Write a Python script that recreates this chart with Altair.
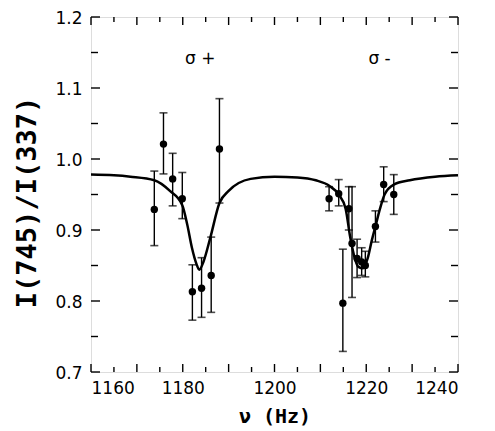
import altair as alt
import pandas as pd

# measured points
nu = [1173.8, 1175.8, 1177.8, 1179.9, 1182.1, 1184.1, 1186.2, 1188.0,
      1211.9, 1214.0, 1214.9, 1216.2, 1216.9, 1218.0, 1219.0, 1219.8,
      1222.0, 1223.8, 1226.0]
ratio = [0.929, 1.021, 0.972, 0.944, 0.813, 0.818, 0.836, 1.014,
         0.944, 0.951, 0.797, 0.930, 0.881, 0.860, 0.855, 0.850,
         0.905, 0.964, 0.950]
err_lo = [0.878, 0.979, 0.934, 0.916, 0.773, 0.777, 0.784, 0.938,
          0.927, 0.934, 0.729, 0.900, 0.805, 0.833, 0.836, 0.834,
          0.883, 0.940, 0.922]
err_hi = [0.983, 1.065, 1.008, 0.981, 0.851, 0.861, 0.890, 1.085,
          0.961, 0.971, 0.873, 0.961, 0.961, 0.887, 0.875, 0.870,
          0.927, 0.989, 0.978]

# fitted curve
curve_nu = [1160, 1165, 1168.6, 1173.8, 1177.2, 1179.9, 1181.0, 1182.0,
            1183.0, 1183.6, 1184.5, 1186.0, 1188.0, 1190.0, 1194.8, 1200.0,
            1205.0, 1209.0, 1212.0, 1214.0, 1215.5, 1216.5, 1217.3, 1218.3,
            1219.3, 1220.3, 1221.2, 1222.0, 1223.0, 1224.0, 1226.0, 1229.5,
            1235.0, 1240.0]
curve_val = [0.978, 0.977, 0.975, 0.970, 0.955, 0.935, 0.907, 0.875,
             0.852, 0.844, 0.855, 0.889, 0.938, 0.955, 0.972, 0.975,
             0.974, 0.970, 0.962, 0.950, 0.930, 0.890, 0.865, 0.848,
             0.846, 0.860, 0.885, 0.905, 0.930, 0.950, 0.964, 0.970,
             0.975, 0.977]

label_text = ["σ +", "σ -"]
label_nu = [1183.8, 1222.9]
label_val = [1.141, 1.141]

x_major = [1160, 1170, 1180, 1190, 1200, 1210, 1220, 1230, 1240]
x_minor = [1165, 1175, 1185, 1195, 1205, 1215, 1225, 1235]
x_labels = [1160, 1180, 1200, 1220, 1240]
y_major = [0.7, 0.8, 0.9, 1.0, 1.1, 1.2]
y_minor = [0.75, 0.85, 0.95, 1.05, 1.15]

W, H = 367, 355

pts = pd.DataFrame({"nu": nu, "r": ratio, "lo": err_lo, "hi": err_hi})
curve = pd.DataFrame({"nu": curve_nu, "r": curve_val})
labels = pd.DataFrame({"t": label_text, "nu": label_nu, "r": label_val})

xs = alt.Scale(domain=[1160, 1240], nice=False, zero=False)
ys = alt.Scale(domain=[0.7, 1.2], nice=False, zero=False)

xaxis = alt.Axis(values=x_labels, format="d", title="ν (Hz)", ticks=False,
                 domain=False, grid=False, labelFont="DejaVu Sans",
                 labelFontSize=17, labelPadding=8, labelColor="black",
                 titleFont="DejaVu Sans Mono", titleFontSize=20,
                 titleFontWeight="bold", titleColor="black",
                 titleBaseline="middle", titleY=44, titleX=W / 2)
yaxis = alt.Axis(values=y_major, format=".1f", title="I(745)/I(337)",
                 ticks=False, domain=False, grid=False,
                 labelFont="DejaVu Sans", labelFontSize=17, labelPadding=9,
                 labelColor="black", labelOffset=1,
                 titleFont="DejaVu Sans Mono", titleFontSize=27,
                 titleFontWeight="bold", titleColor="black",
                 titleAngle=270, titleBaseline="middle", titleAlign="center",
                 titleX=-64, titleY=185)

line = alt.Chart(curve).mark_line(color="black", strokeWidth=2.5,
                                  interpolate="monotone").encode(
    x=alt.X("nu:Q", scale=xs, axis=xaxis),
    y=alt.Y("r:Q", scale=ys, axis=yaxis),
)

bars = alt.Chart(pts).mark_rule(color="black", strokeWidth=1.4).encode(
    x=alt.X("nu:Q", scale=xs), y=alt.Y("lo:Q", scale=ys), y2="hi:Q")
cap_lo = alt.Chart(pts).mark_tick(color="black", orient="horizontal",
                                  size=8, thickness=1.6).encode(
    x=alt.X("nu:Q", scale=xs), y=alt.Y("lo:Q", scale=ys))
cap_hi = alt.Chart(pts).mark_tick(color="black", orient="horizontal",
                                  size=8, thickness=1.6).encode(
    x=alt.X("nu:Q", scale=xs), y=alt.Y("hi:Q", scale=ys))
dots = alt.Chart(pts).mark_circle(color="black", opacity=1, size=55).encode(
    x=alt.X("nu:Q", scale=xs), y=alt.Y("r:Q", scale=ys))

txt = alt.Chart(labels).mark_text(font="DejaVu Sans", fontSize=17,
                                  color="black").encode(
    x=alt.X("nu:Q", scale=xs), y=alt.Y("r:Q", scale=ys), text="t:N")


def xticks(vals, length):
    d = pd.DataFrame({"v": vals})
    b = alt.Chart(d).mark_rule(color="black", strokeWidth=1.4).encode(
        x=alt.X("v:Q", scale=xs), y=alt.value(H), y2=alt.value(H - length))
    t = alt.Chart(d).mark_rule(color="black", strokeWidth=1.4).encode(
        x=alt.X("v:Q", scale=xs), y=alt.value(0), y2=alt.value(length))
    return [b, t]


def yticks(vals, length):
    d = pd.DataFrame({"v": vals})
    l = alt.Chart(d).mark_rule(color="black", strokeWidth=1.4).encode(
        y=alt.Y("v:Q", scale=ys), x=alt.value(0), x2=alt.value(length))
    r = alt.Chart(d).mark_rule(color="black", strokeWidth=1.4).encode(
        y=alt.Y("v:Q", scale=ys), x=alt.value(W), x2=alt.value(W - length))
    return [l, r]


layers = ([line] + xticks(x_major, 8) + xticks(x_minor, 5)
          + yticks(y_major, 9) + yticks(y_minor, 7)
          + [bars, cap_lo, cap_hi, dots, txt])

chart = alt.layer(*layers).properties(
    width=W, height=H,
    autosize=alt.AutoSizeParams(type="none"),
    padding={"left": 83, "top": 9, "right": 29, "bottom": 58},
).configure_view(stroke="black", strokeWidth=1.5).configure(
    background="white")

chart.save("out.html", embed_options={"renderer": "svg", "actions": False})
